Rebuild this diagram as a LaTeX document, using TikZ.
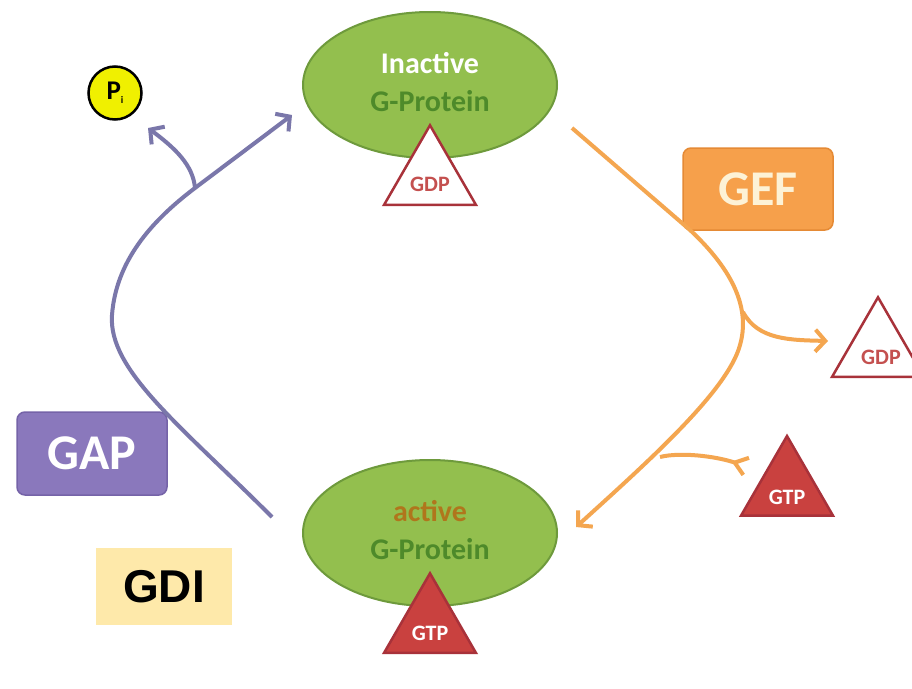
\documentclass[tikz,border=0pt]{standalone}
\usepackage{fontspec}
\setmainfont{Carlito}
\newfontfamily\gdifont{Liberation Sans}
\usetikzlibrary{shapes.geometric,arrows.meta}
\definecolor{gfill}{HTML}{93BF4E}
\definecolor{gdraw}{HTML}{6E9A3C}
\definecolor{dgreen}{HTML}{4E8A2A}
\definecolor{actbrown}{HTML}{B0761C}
\definecolor{dred}{HTML}{A8323A}
\definecolor{gtpred}{HTML}{C9413F}
\definecolor{gdptext}{HTML}{C4504F}
\definecolor{gapfill}{HTML}{8A78BC}
\definecolor{gapdraw}{HTML}{7563A8}
\definecolor{geffill}{HTML}{F6A04B}
\definecolor{gefdraw}{HTML}{E58A35}
\definecolor{geftext}{HTML}{FDF2D6}
\definecolor{orline}{HTML}{F4A650}
\definecolor{puline}{HTML}{7A77AA}
\definecolor{piyellow}{HTML}{F0F000}
\definecolor{gdifill}{HTML}{FEE9AA}
\begin{document}
\begin{tikzpicture}[x=1pt,y=-1pt,
  gprot/.style={ellipse, fill=gfill, draw=gdraw, line width=2pt, minimum width=254pt, minimum height=146pt, inner sep=0pt},
  gtext/.style={font=\bfseries\fontsize{30}{33}\selectfont, inner sep=0pt},
  tri/.style={regular polygon, regular polygon sides=3, minimum size=106pt, inner sep=0pt, line width=2.5pt, draw=dred},
  tritext/.style={font=\bfseries\fontsize{22}{24}\selectfont, inner sep=0pt},
  box/.style={rounded corners=8pt, line width=1.5pt, font=\bfseries\fontsize{50}{54}\selectfont, inner sep=0pt},
  tipb/.style={-{Straight Barb[length=10pt,width=22pt]}},
  puarrow/.style={draw=puline, line width=4pt, tipb},
  orarrow/.style={draw=orline, line width=4pt}]
\useasboundingbox (0,0) rectangle (912,688);
\clip (0,0) rectangle (912,688);
\fill[white] (0,0) rectangle (912,688);

% G-proteins
\node[gprot] (inact) at (430,85) {};
\node[gtext, text=white] (inactA) at (430,63) {Inactive};
\node[gtext, text=dgreen] (inactB) at (430,101) {G-Protein};
\node[tri, fill=white] (gdpA) at (430,178.3) {};
\node[tritext, text=gdptext] (gdpAt) at (430,184) {GDP};

\node[gprot] (act) at (430,533) {};
\node[gtext, text=actbrown] (actA) at (430,511) {active};
\node[gtext, text=dgreen] (actB) at (430,549) {G-Protein};
\node[tri, fill=gtpred] (gtpA) at (430,626.3) {};
\node[tritext, text=white] (gtpAt) at (430,633) {GTP};

% right nucleotides
\node[tri, fill=white] (gdpB) at (878,350.3) {};
\node[tritext, text=gdptext] (gdpBt) at (881,357) {GDP};
\node[tri, fill=gtpred] (gtpB) at (787,489) {};
\node[tritext, text=white] (gtpBt) at (787,497) {GTP};

% boxes
\node[box, fill=gapfill, draw=gapdraw, text=white, minimum width=150pt, minimum height=83pt] (gap) at (92,453.5) {GAP};
\node[box, fill=geffill, draw=gefdraw, text=geftext, minimum width=150pt, minimum height=82pt] (gef) at (758,189) {GEF};
\node[fill=gdifill, minimum width=136pt, minimum height=77pt, inner sep=0pt, font=\gdifont\bfseries\fontsize{46}{50}\selectfont] (gdi) at (164,586.5) {GDI};

% Pi
\node[circle, fill=piyellow, draw=black, line width=2.5pt, minimum size=53pt, inner sep=0pt, font=\bfseries\fontsize{27}{29}\selectfont] (pi) at (115,93) {P\raisebox{-4pt}{\fontsize{10}{10}\selectfont i}};

% purple GAP arrows
\coordinate (gapS) at (272,517);
\coordinate (gapL) at (112,315);
\coordinate (gapJ) at (195,188);
\coordinate (gapE) at (292,115);
\coordinate (piE) at (148,128);
\draw[puarrow] (gapS) .. controls (180,425) and (108,370) .. (gapL)
  .. controls (116,262) and (150,222) .. (gapJ) -- (gapE);
\draw[puarrow] (gapJ) .. controls (193,165) and (175,148) .. (piE);

% orange GEF arrows
\coordinate (gefS) at (572,128);
\coordinate (gefK) at (690,230);
\coordinate (gefR) at (740,345);
\coordinate (gefE) at (576,527);
\coordinate (gefO) at (743,312);
\coordinate (gdpE) at (828,341);
\coordinate (gtpS) at (748,467);
\coordinate (gefI) at (660,457);
\draw[orarrow, tipb] (gefS) -- (gefK) .. controls (735,272) and (750,310) .. (gefR)
  .. controls (728,390) and (650,460) .. (gefE);
\draw[orarrow, tipb] (gefO) .. controls (758,340) and (790,340) .. (gdpE);
\draw[orarrow, {Straight Barb[reversed,length=12pt,width=18pt]}-] (gtpS) .. controls (715,456) and (680,452) .. (gefI);
\end{tikzpicture}
\end{document}
